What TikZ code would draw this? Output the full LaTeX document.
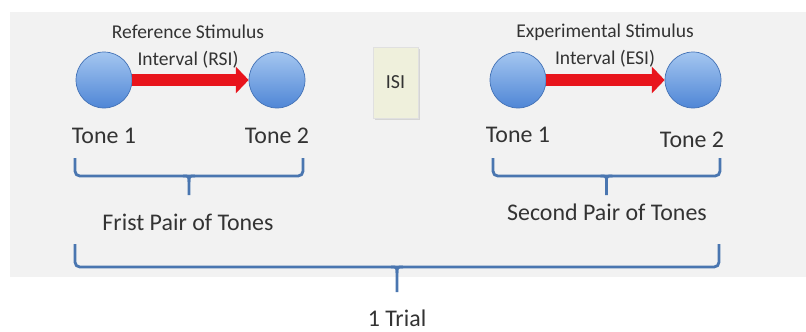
\documentclass[tikz,border=0pt]{standalone}
\usepackage{fontspec}
\setmainfont{Carlito}
\definecolor{tnblue}{HTML}{4F86D6}
\definecolor{tnlight}{HTML}{A4C6F0}
\definecolor{tnred}{HTML}{E8141C}
\definecolor{tnbrace}{HTML}{4A76B0}
\definecolor{tngray}{HTML}{F2F2F2}
\definecolor{tnisi}{HTML}{EFF0DC}
\definecolor{tntext}{HTML}{333333}
\usepackage{tikz}
\usetikzlibrary{arrows.meta, positioning, shadows}

\begin{document}
\begin{tikzpicture}[
  tone/.style={circle, minimum size=1.4cm, inner sep=0pt, draw=tnblue!85!black, line width=0.5pt,
               top color=tnlight, bottom color=tnblue},
  stim/.style={-{Triangle[length=0.32cm, width=0.65cm]}, line width=0.3cm, tnred},
  lbl/.style={font=\fontsize{17}{20}\selectfont, text=tntext, anchor=base},
  stimlbl/.style={font=\fontsize{13.9}{19.2}\selectfont, text=tntext, align=center},
  isi/.style={fill=tnisi, draw=black!12, minimum width=1.125cm, minimum height=1.775cm, inner sep=0pt,
              font=\fontsize{14.2}{17}\selectfont, text=tntext,
              drop shadow={opacity=0.25, shadow xshift=0.05cm, shadow yshift=-0.06cm}},
  brace/.style={draw=tnbrace, line width=2pt, rounded corners=0.12cm},
]
  \useasboundingbox (0,0) rectangle (20.15,8.275);
  \fill[tngray] (0.25,1.35) rectangle (20.15,7.975);

  % First pair
  \node[tone] (r1) at (2.6,6.275) {};
  \node[tone] (r2) at (6.925,6.275) {};
  \draw[stim] (r1) -- (r2);
  \node[stimlbl] (rsi) at (4.7,7.11) {Reference Stimulus\\Interval (RSI)};
  \node[lbl] (r1t) at (2.6,4.7) {Tone 1};
  \node[lbl] (r2t) at (6.925,4.7) {Tone 2};

  \node[isi] (isi) at (9.8875,6.2125) {ISI};

  % Second pair
  \node[tone] (e1) at (12.95,6.275) {};
  \node[tone] (e2) at (17.325,6.275) {};
  \draw[stim] (e1) -- (e2);
  \node[stimlbl] (esi) at (15.125,7.135) {Experimental Stimulus\\Interval (ESI)};
  \node[lbl] (e1t) at (12.95,4.725) {Tone 1};
  \node[lbl] (e2t) at (17.3,4.6) {Tone 2};

  % Braces
  \foreach \xl/\xr/\yt/\yl/\yb in {1.875/7.575/4.325/3.875/3.4,
                                   12.325/18.0/4.325/3.875/3.4,
                                   1.875/17.975/2.175/1.6/0.975} {
    \draw[brace] (\xl,\yt) -- (\xl,\yl) -- (\xr,\yl) -- (\xr,\yt);
    \draw[brace, rounded corners=0pt] ({(\xl+\xr)/2-0.15},\yl) .. controls ({(\xl+\xr)/2},\yl) .. ({(\xl+\xr)/2},{\yl-0.15}) -- ({(\xl+\xr)/2},\yb);
    \draw[brace, rounded corners=0pt] ({(\xl+\xr)/2+0.15},\yl) .. controls ({(\xl+\xr)/2},\yl) .. ({(\xl+\xr)/2},{\yl-0.15});
  }

  \node[lbl] (p1) at (4.7,2.525) {Frist Pair of Tones};
  \node[lbl] (p2) at (15.175,2.775) {Second Pair of Tones};
  \node[lbl, inner sep=0pt] (trial) at (9.925,0.12) {1 Trial};
\end{tikzpicture}
\end{document}
